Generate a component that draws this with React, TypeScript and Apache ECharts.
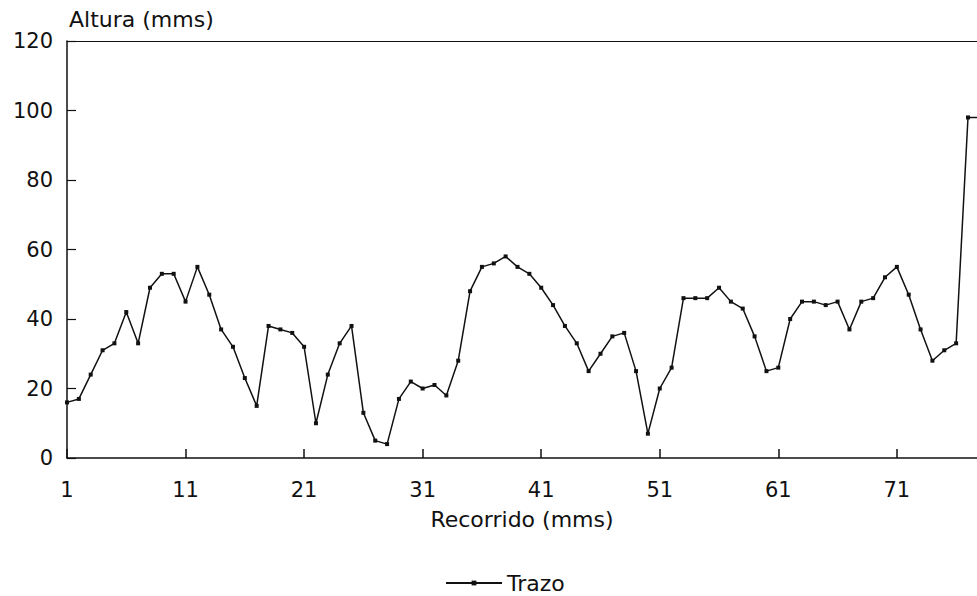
import React, { useEffect, useRef } from "react";
import * as echarts from "echarts";

// Recorrido index 1..78 (stored as position - 1 on the value axis)
const alturas: number[] = [
  16, 17, 24, 31, 33, 42, 33, 49, 53, 53,
  45, 55, 47, 37, 32, 23, 15, 38, 37, 36,
  32, 10, 24, 33, 38, 13, 5, 4, 17, 22,
  20, 21, 18, 28, 48, 55, 56, 58, 55, 53,
  49, 44, 38, 33, 25, 30, 35, 36, 25, 7,
  20, 26, 46, 46, 46, 49, 45, 43, 35, 25,
  26, 40, 45, 45, 44, 45, 37, 45, 46, 52,
  55, 47, 37, 28, 31, 33, 98, 98,
];
const yTicks: number[] = [0, 20, 40, 60, 80, 100, 120];
const xTickLabels: string[] = ["1", "11", "21", "31", "41", "51", "61", "71"];
const seriesName = "Trazo";
const xName = "Recorrido (mms)";
const yName = "Altura (mms)";

const FONT = "DejaVu Sans";

export default function App() {
  const ref = useRef<HTMLDivElement>(null);
  useEffect(() => {
    if (!ref.current) return;
    const chart = echarts.init(ref.current, undefined, { renderer: "svg" });
    const data = alturas.map((v, i) => [i, v]);
    chart.setOption({
      animation: false,
      backgroundColor: "#ffffff",
      title: {
        text: yName,
        left: 64,
        top: 3,
        textStyle: { fontFamily: FONT, fontSize: 22, fontWeight: "normal", color: "#111" },
      },
      grid: { left: 67, right: 0, top: 41, bottom: 138, containLabel: false },
      legend: {
        top: 567,
        left: 440,
        data: [seriesName],
        itemWidth: 56,
        itemHeight: 6,
        itemGap: 10,
        textStyle: { fontFamily: FONT, fontSize: 22, color: "#111" },
      },
      xAxis: [
        {
          type: "value",
          min: 0,
          max: 76.76,
          interval: 10,
          name: xName,
          nameLocation: "middle",
          nameGap: 50,
          nameTextStyle: { fontFamily: FONT, fontSize: 22, color: "#111" },
          axisLine: { show: true, lineStyle: { color: "#111", width: 1.5 } },
          axisTick: { show: true, inside: true, length: 9, lineStyle: { color: "#111", width: 1.5 } },
          axisLabel: {
            fontFamily: FONT,
            fontSize: 21,
            color: "#111",
            margin: 21,
            showMaxLabel: false,
            formatter: (v: number) => {
              const k = Math.round(v / 10);
              return Math.abs(v - k * 10) < 1e-6 ? xTickLabels[k] ?? "" : "";
            },
          },
          splitLine: { show: false },
        },
        {
          type: "value",
          position: "top",
          min: 0,
          max: 76.76,
          axisLine: { show: true, lineStyle: { color: "#111", width: 1.2 } },
          axisTick: { show: false },
          axisLabel: { show: false },
          splitLine: { show: false },
        },
      ],
      yAxis: {
        type: "value",
        min: yTicks[0],
        max: yTicks[yTicks.length - 1],
        interval: 20,
        axisLine: { show: true, lineStyle: { color: "#111", width: 1.5 } },
        axisTick: { show: true, inside: true, length: 9, lineStyle: { color: "#111", width: 1.2 } },
        axisLabel: { fontFamily: FONT, fontSize: 21, color: "#111", margin: 14 },
        splitLine: { show: false },
      },
      series: [
        {
          name: seriesName,
          type: "line",
          data,
          xAxisIndex: 0,
          symbol: "rect",
          symbolSize: 4,
          clip: true,
          lineStyle: { color: "#111", width: 1.5 },
          itemStyle: { color: "#111" },
        },
      ],
    });
    return () => chart.dispose();
  }, []);
  return <div ref={ref} style={{ width: 977, height: 596, position: "absolute", left: 0, top: 0 }} />;
}
